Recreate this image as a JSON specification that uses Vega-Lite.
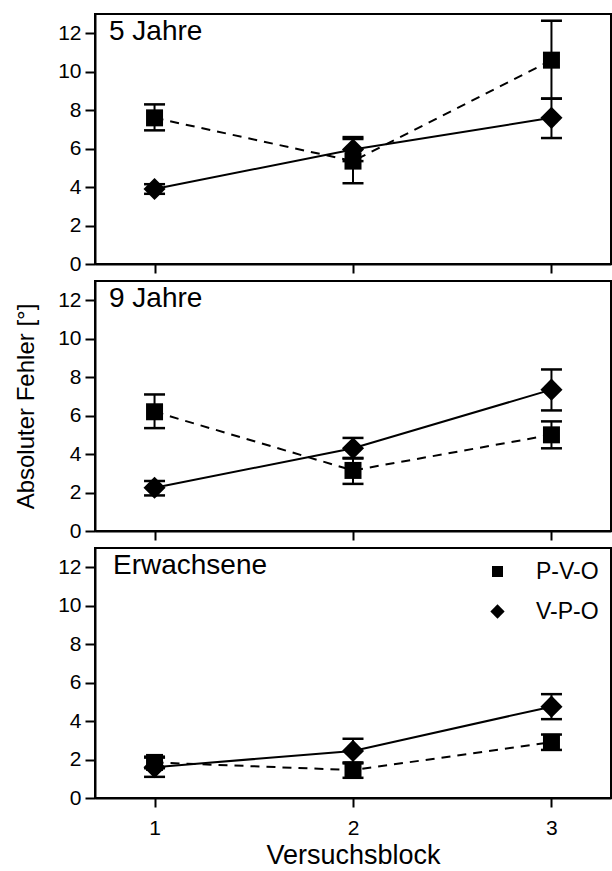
{
  "$schema": "https://vega.github.io/schema/vega-lite/v6.json",
  "background": "white",
  "padding": {"left": 13, "top": 13, "right": 0, "bottom": 0},
  "spacing": 17,
  "bounds": "flush",
  "config": {
    "font": "Liberation Sans",
    "view": {"stroke": "black", "strokeWidth": 2},
    "axis": {
      "domainColor": "black", "domainWidth": 2,
      "tickColor": "black", "tickWidth": 2, "tickSize": 9,
      "labelColor": "black", "labelFont": "Liberation Sans", "labelFontSize": 21,
      "titleColor": "black", "titleFont": "Liberation Sans", "titleFontWeight": "normal",
      "grid": false
    },
    "title": {"font": "Liberation Sans", "fontWeight": "normal", "color": "black", "fontSize": 28, "anchor": "start", "frame": "group", "baseline": "alphabetic", "offset": -32}
  },
  "resolve": {
    "scale": {"shape": "independent"},
    "legend": {"shape": "independent"}
  },
  "datasets": {
    "d": [
      {"panel": "5 Jahre", "cond": "P-V-O", "block": 1, "mean": 7.6, "lo": 6.95, "hi": 8.3},
      {"panel": "5 Jahre", "cond": "P-V-O", "block": 2, "mean": 5.35, "lo": 4.2, "hi": 6.5},
      {"panel": "5 Jahre", "cond": "P-V-O", "block": 3, "mean": 10.6, "lo": 8.6, "hi": 12.65},
      {"panel": "5 Jahre", "cond": "V-P-O", "block": 1, "mean": 3.9, "lo": 3.65, "hi": 4.15},
      {"panel": "5 Jahre", "cond": "V-P-O", "block": 2, "mean": 5.95, "lo": 5.35, "hi": 6.6},
      {"panel": "5 Jahre", "cond": "V-P-O", "block": 3, "mean": 7.6, "lo": 6.55, "hi": 8.6},
      {"panel": "9 Jahre", "cond": "P-V-O", "block": 1, "mean": 6.2, "lo": 5.35, "hi": 7.1},
      {"panel": "9 Jahre", "cond": "P-V-O", "block": 2, "mean": 3.15, "lo": 2.45, "hi": 3.8},
      {"panel": "9 Jahre", "cond": "P-V-O", "block": 3, "mean": 5.0, "lo": 4.3, "hi": 5.7},
      {"panel": "9 Jahre", "cond": "V-P-O", "block": 1, "mean": 2.25, "lo": 1.85, "hi": 2.6},
      {"panel": "9 Jahre", "cond": "V-P-O", "block": 2, "mean": 4.3, "lo": 3.77, "hi": 4.84},
      {"panel": "9 Jahre", "cond": "V-P-O", "block": 3, "mean": 7.35, "lo": 6.27, "hi": 8.4},
      {"panel": "Erwachsene", "cond": "P-V-O", "block": 1, "mean": 1.85, "lo": 1.55, "hi": 2.15},
      {"panel": "Erwachsene", "cond": "P-V-O", "block": 2, "mean": 1.45, "lo": 1.05, "hi": 1.85},
      {"panel": "Erwachsene", "cond": "P-V-O", "block": 3, "mean": 2.9, "lo": 2.5, "hi": 3.3},
      {"panel": "Erwachsene", "cond": "V-P-O", "block": 1, "mean": 1.6, "lo": 1.1, "hi": 2.1},
      {"panel": "Erwachsene", "cond": "V-P-O", "block": 2, "mean": 2.45, "lo": 1.8, "hi": 3.08},
      {"panel": "Erwachsene", "cond": "V-P-O", "block": 3, "mean": 4.75, "lo": 4.1, "hi": 5.4}
    ]
  },
  "vconcat": [
    {
      "width": 516, "height": 250,
      "title": {"text": "5 Jahre", "dx": 14},
      "data": {"name": "d"},
      "transform": [{"filter": "datum.panel === '5 Jahre'"}],
      "encoding": {
        "x": {"field": "block", "type": "quantitative", "scale": {"domain": [0.7, 3.3], "nice": false, "zero": false}, "axis": {"values": [1, 2, 3], "labels": false, "title": null, "tickSize": 9}},
        "y": {"field": "mean", "type": "quantitative", "scale": {"domain": [0, 13], "nice": false, "zero": true}, "axis": {"values": [0, 2, 4, 6, 8, 10, 12], "title": null, "tickSize": 10, "labelPadding": 4, "labelFontSize": 21}}
      },
      "layer": [
        {"transform": [{"filter": "datum.cond === 'P-V-O'"}], "mark": {"type": "line", "color": "black", "strokeWidth": 2, "strokeDash": [9, 7]}},
        {"transform": [{"filter": "datum.cond === 'V-P-O'"}], "mark": {"type": "line", "color": "black", "strokeWidth": 2}},
        {"mark": {"type": "rule", "color": "black", "strokeWidth": 2},
         "encoding": {"y": {"field": "lo", "type": "quantitative"}, "y2": {"field": "hi"}}},
        {"mark": {"type": "tick", "orient": "horizontal", "color": "black", "thickness": 2.5, "size": 21, "opacity": 1},
         "encoding": {"y": {"field": "lo", "type": "quantitative"}}},
        {"mark": {"type": "tick", "orient": "horizontal", "color": "black", "thickness": 2.5, "size": 21, "opacity": 1},
         "encoding": {"y": {"field": "hi", "type": "quantitative"}}},
        {"transform": [{"filter": "datum.cond === 'P-V-O'"}], "mark": {"type": "point", "filled": true, "color": "black", "opacity": 1, "size": 289, "shape": "M-1,-1H1V1H-1Z"}},
        {"transform": [{"filter": "datum.cond === 'V-P-O'"}], "mark": {"type": "point", "filled": true, "color": "black", "opacity": 1, "size": 289, "shape": "M-1.3,0L0,-1.3L1.3,0L0,1.3Z"}}
      ]
    },
    {
      "width": 516, "height": 250,
      "title": {"text": "9 Jahre", "dx": 14},
      "data": {"name": "d"},
      "transform": [{"filter": "datum.panel === '9 Jahre'"}],
      "encoding": {
        "x": {"field": "block", "type": "quantitative", "scale": {"domain": [0.7, 3.3], "nice": false, "zero": false}, "axis": {"values": [1, 2, 3], "labels": false, "title": null, "tickSize": 9}},
        "y": {"field": "mean", "type": "quantitative", "scale": {"domain": [0, 13], "nice": false, "zero": true}, "axis": {"values": [0, 2, 4, 6, 8, 10, 12], "title": "Absoluter Fehler [°]", "titleFontSize": 24, "titlePadding": 19, "tickSize": 10, "labelPadding": 4, "labelFontSize": 21}}
      },
      "layer": [
        {"transform": [{"filter": "datum.cond === 'P-V-O'"}], "mark": {"type": "line", "color": "black", "strokeWidth": 2, "strokeDash": [9, 7]}},
        {"transform": [{"filter": "datum.cond === 'V-P-O'"}], "mark": {"type": "line", "color": "black", "strokeWidth": 2}},
        {"mark": {"type": "rule", "color": "black", "strokeWidth": 2},
         "encoding": {"y": {"field": "lo", "type": "quantitative"}, "y2": {"field": "hi"}}},
        {"mark": {"type": "tick", "orient": "horizontal", "color": "black", "thickness": 2.5, "size": 21, "opacity": 1},
         "encoding": {"y": {"field": "lo", "type": "quantitative"}}},
        {"mark": {"type": "tick", "orient": "horizontal", "color": "black", "thickness": 2.5, "size": 21, "opacity": 1},
         "encoding": {"y": {"field": "hi", "type": "quantitative"}}},
        {"transform": [{"filter": "datum.cond === 'P-V-O'"}], "mark": {"type": "point", "filled": true, "color": "black", "opacity": 1, "size": 289, "shape": "M-1,-1H1V1H-1Z"}},
        {"transform": [{"filter": "datum.cond === 'V-P-O'"}], "mark": {"type": "point", "filled": true, "color": "black", "opacity": 1, "size": 289, "shape": "M-1.3,0L0,-1.3L1.3,0L0,1.3Z"}}
      ]
    },
    {
      "width": 516, "height": 250,
      "title": {"text": "Erwachsene", "dx": 18},
      "data": {"name": "d"},
      "transform": [{"filter": "datum.panel === 'Erwachsene'"}],
      "encoding": {
        "x": {"field": "block", "type": "quantitative", "scale": {"domain": [0.7, 3.3], "nice": false, "zero": false}, "axis": {"values": [1, 2, 3], "format": "d", "title": "Versuchsblock", "titleFontSize": 27, "labelFontSize": 21, "tickSize": 9, "labelPadding": 10, "titlePadding": 4}},
        "y": {"field": "mean", "type": "quantitative", "scale": {"domain": [0, 13], "nice": false, "zero": true}, "axis": {"values": [0, 2, 4, 6, 8, 10, 12], "title": null, "tickSize": 10, "labelPadding": 4, "labelFontSize": 21}}
      },
      "layer": [
        {"transform": [{"filter": "datum.cond === 'P-V-O'"}], "mark": {"type": "line", "color": "black", "strokeWidth": 2, "strokeDash": [9, 7]}},
        {"transform": [{"filter": "datum.cond === 'V-P-O'"}], "mark": {"type": "line", "color": "black", "strokeWidth": 2}},
        {"mark": {"type": "rule", "color": "black", "strokeWidth": 2},
         "encoding": {"y": {"field": "lo", "type": "quantitative"}, "y2": {"field": "hi"}}},
        {"mark": {"type": "tick", "orient": "horizontal", "color": "black", "thickness": 2.5, "size": 21, "opacity": 1},
         "encoding": {"y": {"field": "lo", "type": "quantitative"}}},
        {"mark": {"type": "tick", "orient": "horizontal", "color": "black", "thickness": 2.5, "size": 21, "opacity": 1},
         "encoding": {"y": {"field": "hi", "type": "quantitative"}}},
        {"mark": {"type": "point", "filled": true, "color": "black", "opacity": 1, "size": 289},
         "encoding": {
           "shape": {"field": "cond", "type": "nominal", "scale": {"domain": ["P-V-O", "V-P-O"], "range": ["M-1,-1H1V1H-1Z", "M-1.3,0L0,-1.3L1.3,0L0,1.3Z"]},
             "legend": {"title": null, "orient": "top-right", "offset": 12, "padding": 0, "labelFontSize": 23, "labelFont": "Liberation Sans", "labelColor": "black", "labelOffset": 27, "symbolSize": 121, "rowPadding": 16, "symbolFillColor": "black", "symbolStrokeWidth": 0, "symbolOpacity": 1}}}}
      ]
    }
  ]
}
